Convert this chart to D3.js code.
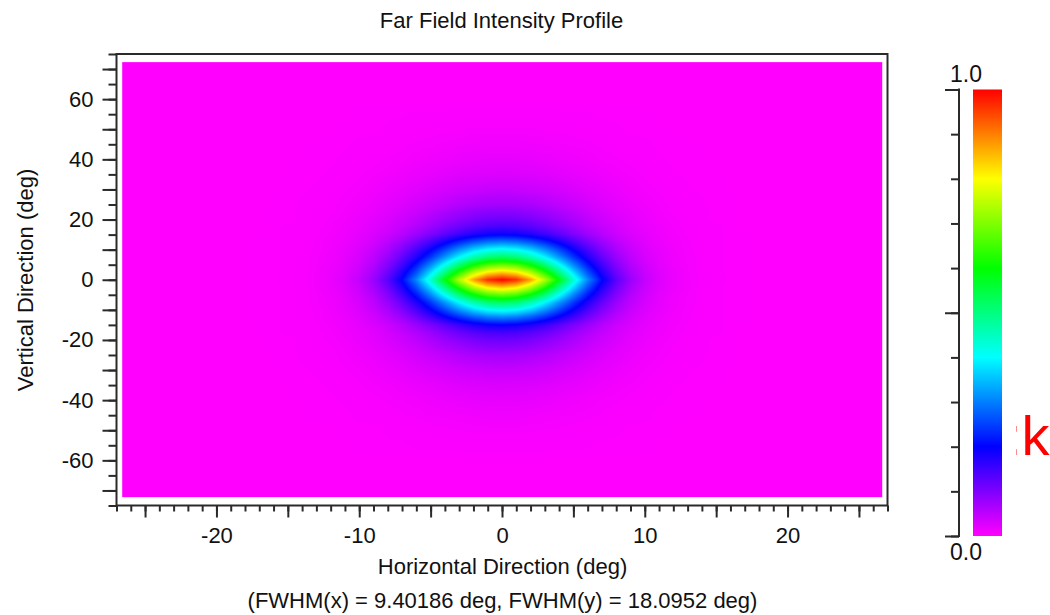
<!DOCTYPE html>
<html>
<head>
<meta charset="utf-8">
<script src="https://cdn.jsdelivr.net/npm/d3@7"></script>
<style>
  html, body { margin: 0; padding: 0; background: #fff; }
  svg { display: block; font-family: "Liberation Sans", Arial, sans-serif; }
</style>
</head>
<body>
<svg id="chart" width="1050" height="615"></svg>
<script>
// Far-field intensity (normalised), sampled on one quadrant: |horizontal| and |vertical| angle in degrees.
// The profile is symmetric about both axes, so the other three quadrants mirror these samples.
const gridX = [0, 1, 2, 3, 4, 5, 6, 7, 8, 9, 10, 11, 12, 13, 14, 15, 16, 17, 18, 19, 20];
const gridY = [0, 2.5, 5, 7.5, 10, 12.5, 15, 17.5, 20, 25, 30, 35, 40, 45, 50, 55, 60];
const intensity = [
  [1, .967, .875, .741, .589, .439, .308, .204, .129, .078, .046, .026, .015, .008, .005, .003, .001, .001, 0, 0, 0],
  [.841, .813, .737, .626, .498, .373, .263, .176, .112, .069, .041, .024, .014, .008, .004, .002, .001, .001, 0, 0, 0],
  [.68, .658, .597, .508, .407, .306, .218, .147, .095, .059, .036, .021, .012, .007, .004, .002, .001, .001, 0, 0, 0],
  [.526, .51, .463, .396, .319, .242, .174, .12, .079, .05, .031, .019, .011, .007, .004, .002, .001, .001, 0, 0, 0],
  [.415, .402, .367, .315, .255, .195, .142, .099, .066, .043, .027, .017, .01, .006, .004, .002, .001, .001, 0, 0, 0],
  [.302, .293, .268, .232, .19, .147, .109, .077, .053, .035, .023, .014, .009, .006, .003, .002, .001, .001, 0, 0, 0],
  [.197, .192, .177, .155, .129, .102, .078, .057, .04, .028, .019, .012, .008, .005, .003, .002, .001, .001, 0, 0, 0],
  [.145, .141, .131, .116, .098, .079, .061, .046, .033, .023, .016, .011, .007, .004, .003, .002, .001, 0, 0, 0, 0],
  [.114, .112, .104, .092, .079, .064, .05, .038, .028, .02, .014, .009, .006, .004, .002, .001, .001, 0, 0, 0, 0],
  [.07, .069, .065, .058, .05, .042, .034, .026, .02, .014, .01, .007, .004, .003, .002, .001, .001, 0, 0, 0, 0],
  [.045, .044, .041, .038, .033, .028, .023, .018, .014, .01, .007, .005, .003, .002, .001, .001, 0, 0, 0, 0, 0],
  [.028, .027, .026, .024, .021, .018, .015, .012, .009, .007, .005, .003, .002, .001, .001, .001, 0, 0, 0, 0, 0],
  [.018, .018, .017, .015, .013, .011, .009, .007, .006, .004, .003, .002, .001, .001, .001, 0, 0, 0, 0, 0, 0],
  [.011, .011, .01, .009, .008, .007, .006, .005, .003, .003, .002, .001, .001, .001, 0, 0, 0, 0, 0, 0, 0],
  [.006, .006, .006, .005, .005, .004, .003, .003, .002, .001, .001, .001, 0, 0, 0, 0, 0, 0, 0, 0, 0],
  [.003, .003, .003, .003, .002, .002, .002, .001, .001, .001, .001, 0, 0, 0, 0, 0, 0, 0, 0, 0, 0],
  [0, 0, 0, 0, 0, 0, 0, 0, 0, 0, 0, 0, 0, 0, 0, 0, 0, 0, 0, 0, 0]
];

// Extent of the computed field and of the axes (degrees)
const fieldX = [-26.6, 26.6];
const fieldY = [-72.3, 72.3];
const axisX = [-27, 27];
const axisY = [-75, 75];

// Tick values and labels
const xMinorTicks = d3.range(-27, 28, 1);
const xMajorTicks = d3.range(-25, 26, 5);
const xLabelTicks = [-20, -10, 0, 10, 20];
const yMinorTicks = d3.range(-75, 76, 5);
const yMajorTicks = d3.range(-70, 71, 10);
const yLabelTicks = [-60, -40, -20, 0, 20, 40, 60];
const barMinorTicks = d3.range(0, 11).map(d => d / 10);
const barMajorTicks = [0, 0.5, 1];
const barLabels = ["0.0", "1.0"];

// Colour map stops (intensity -> colour)
const colorStops = [0, 0.2, 0.4, 0.6, 0.8, 1];
const colorValues = ["#ff00ff", "#0000ff", "#00ffff", "#00ff00", "#ffff00", "#ff0000"];

const titleText = "Far Field Intensity Profile";
const xTitle = "Horizontal Direction (deg)";
const yTitle = "Vertical Direction (deg)";
const fwhmText = "(FWHM(x) = 9.40186 deg, FWHM(y) = 18.0952 deg)";
const sideText = ":k";

const svg = d3.select("#chart");
const font = 22;
const ink = "#2a2a2a";

const x = d3.scaleLinear().domain(axisX).range([116.5, 887.5]);
const y = d3.scaleLinear().domain(axisY).range([505.5, 54]);
const color = d3.scaleLinear().domain(colorStops).range(colorValues).clamp(true);

// ---- Heat map: rendered pixel by pixel through the scales ----
const lut = d3.range(0, 1001).map(i => d3.rgb(color(i / 1000)));

function sample(ax, ay) {
  const xn = gridX[gridX.length - 1], yn = gridY[gridY.length - 1];
  if (ax >= xn || ay >= yn) return 0;
  const i = Math.min(d3.bisectRight(gridX, ax) - 1, gridX.length - 2);
  const j = Math.min(d3.bisectRight(gridY, ay) - 1, gridY.length - 2);
  const tx = (ax - gridX[i]) / (gridX[i + 1] - gridX[i]);
  const ty = (ay - gridY[j]) / (gridY[j + 1] - gridY[j]);
  const a = intensity[j][i] * (1 - tx) + intensity[j][i + 1] * tx;
  const b = intensity[j + 1][i] * (1 - tx) + intensity[j + 1][i + 1] * tx;
  return a * (1 - ty) + b * ty;
}

const hx0 = x(fieldX[0]), hx1 = x(fieldX[1]);
const hy0 = y(fieldY[1]), hy1 = y(fieldY[0]);
const W = Math.round(hx1 - hx0), H = Math.round(hy1 - hy0);
const canvas = document.createElement("canvas");
canvas.width = W; canvas.height = H;
const ctx = canvas.getContext("2d");
const img = ctx.createImageData(W, H);
for (let j = 0; j < H; j++) {
  const yd = Math.abs(y.invert(hy0 + j + 0.5));
  for (let i = 0; i < W; i++) {
    const xd = Math.abs(x.invert(hx0 + i + 0.5));
    const v = Math.max(0, Math.min(1, sample(xd, yd)));
    const c = lut[Math.round(v * 1000)];
    const k = (j * W + i) * 4;
    img.data[k] = c.r; img.data[k + 1] = c.g; img.data[k + 2] = c.b; img.data[k + 3] = 255;
  }
}
ctx.putImageData(img, 0, 0);

svg.append("image")
  .attr("x", hx0).attr("y", hy0)
  .attr("width", W).attr("height", H)
  .attr("preserveAspectRatio", "none")
  .attr("href", canvas.toDataURL());

// ---- Axes ----
function styleAxis(g) {
  g.select(".domain").remove();
  g.selectAll(".tick line").attr("stroke", ink).attr("stroke-width", 2);
  g.selectAll(".tick text").attr("fill", "#111").attr("font-size", font)
    .attr("font-family", "'Liberation Sans', Arial, sans-serif");
}
const labelFmt = list => d => list.includes(d) ? String(d) : "";

svg.append("g").attr("transform", `translate(0,${y(axisY[0])})`)
  .call(d3.axisBottom(x).tickValues(xMinorTicks).tickSize(6).tickSizeOuter(0).tickFormat(""))
  .call(styleAxis);
svg.append("g").attr("transform", `translate(0,${y(axisY[0])})`)
  .call(d3.axisBottom(x).tickValues(xMajorTicks).tickSize(12).tickSizeOuter(0).tickPadding(10)
    .tickFormat(labelFmt(xLabelTicks)))
  .call(styleAxis);

svg.append("g").attr("transform", `translate(${x(axisX[0])},0)`)
  .call(d3.axisLeft(y).tickValues(yMinorTicks).tickSize(8).tickSizeOuter(0).tickFormat(""))
  .call(styleAxis);
svg.append("g").attr("transform", `translate(${x(axisX[0])},0)`)
  .call(d3.axisLeft(y).tickValues(yMajorTicks).tickSize(14).tickSizeOuter(0).tickPadding(9)
    .tickFormat(labelFmt(yLabelTicks)))
  .call(styleAxis);

// Plot frame
svg.append("rect")
  .attr("x", x(axisX[0])).attr("y", y(axisY[1]))
  .attr("width", x(axisX[1]) - x(axisX[0])).attr("height", y(axisY[0]) - y(axisY[1]))
  .attr("fill", "none").attr("stroke", ink).attr("stroke-width", 2);

// ---- Colour bar ----
const cb = d3.scaleLinear().domain([0, 1]).range([536, 89.5]);
const defs = svg.append("defs");
const grad = defs.append("linearGradient").attr("id", "cbGrad")
  .attr("x1", 0).attr("y1", 1).attr("x2", 0).attr("y2", 0);
grad.selectAll("stop").data(colorStops).join("stop")
  .attr("offset", d => d).attr("stop-color", d => color(d));

svg.append("rect")
  .attr("x", 973).attr("y", cb(1))
  .attr("width", 29).attr("height", cb(0) - cb(1))
  .attr("fill", "url(#cbGrad)");

const cbAxisX = 959;
svg.append("g").attr("transform", `translate(${cbAxisX},0)`)
  .call(d3.axisLeft(cb).tickValues(barMinorTicks).tickSize(8).tickSizeOuter(0).tickFormat(""))
  .call(styleAxis);
svg.append("g").attr("transform", `translate(${cbAxisX},0)`)
  .call(d3.axisLeft(cb).tickValues(barMajorTicks).tickSize(14).tickSizeOuter(0).tickFormat(""))
  .call(styleAxis);
svg.append("line")
  .attr("x1", cbAxisX).attr("x2", cbAxisX).attr("y1", cb(1) - 1).attr("y2", cb(0) + 1)
  .attr("stroke", ink).attr("stroke-width", 2);

svg.append("text").attr("x", 966).attr("y", cb(1) - 8)
  .attr("text-anchor", "middle").attr("font-size", 23).attr("fill", "#111").text(barLabels[1]);
svg.append("text").attr("x", 966).attr("y", cb(0) + 24)
  .attr("text-anchor", "middle").attr("font-size", 23).attr("fill", "#111").text(barLabels[0]);

// ---- Titles ----
svg.append("text").attr("x", 501.5).attr("y", 28).attr("text-anchor", "middle")
  .attr("font-size", font).attr("fill", "#111").text(titleText);
svg.append("text").attr("x", 502.5).attr("y", 574).attr("text-anchor", "middle")
  .attr("font-size", font).attr("fill", "#111").text(xTitle);
svg.append("text").attr("x", 502.5).attr("y", 608).attr("text-anchor", "middle")
  .attr("font-size", font).attr("fill", "#111").text(fwhmText);
svg.append("text").attr("transform", "translate(33,280) rotate(-90)").attr("text-anchor", "middle")
  .attr("font-size", font).attr("fill", "#111").text(yTitle);

// Red annotation at the right edge
defs.append("clipPath").attr("id", "sideClip")
  .append("rect").attr("x", 1016).attr("y", 380).attr("width", 40).attr("height", 100);
svg.append("text").attr("x", 1006).attr("y", 455)
  .attr("clip-path", "url(#sideClip)")
  .attr("font-size", 56).attr("fill", "#ff0000").text(sideText);
</script>
</body>
</html>
